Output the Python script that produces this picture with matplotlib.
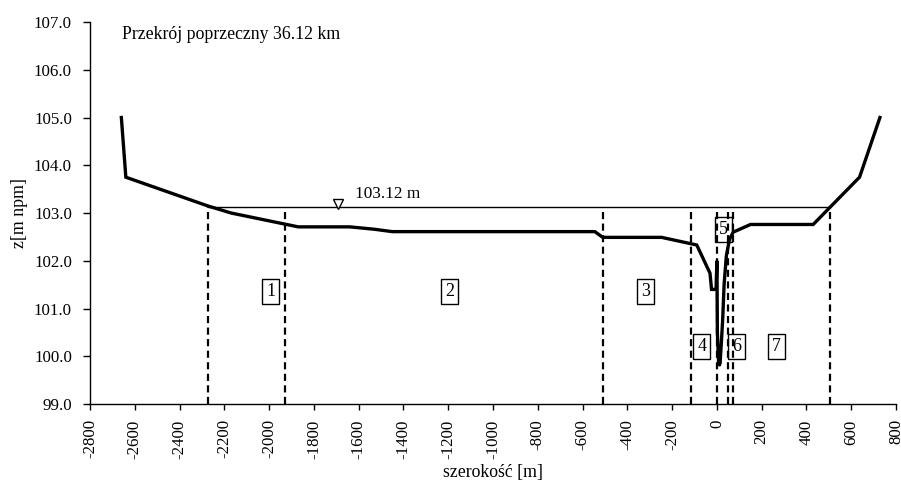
import matplotlib
matplotlib.use("Agg")
import matplotlib.pyplot as plt
from matplotlib.ticker import FormatStrFormatter

plt.rcParams['font.family'] = ['Liberation Serif', 'DejaVu Serif']
plt.rcParams['axes.unicode_minus'] = False

# Cross-section profile
profile_x = [-2660, -2640, -2275, -2170, -1870, -1640, -1530, -1450, -545, -510,
             -247, -90, -31, -24, -4, 0, 2, 8, 14, 20, 26, 32, 42, 56, 73,
             150, 430, 505, 637, 728]
profile_z = [105.0, 103.75, 103.15, 103.0, 102.71, 102.71, 102.66, 102.61, 102.61, 102.49,
             102.49, 102.33, 101.74, 101.40, 101.40, 102.0, 100.5, 99.8, 99.85, 100.3,
             100.8, 101.5, 102.1, 102.45, 102.6,
             102.76, 102.76, 103.12, 103.75, 105.0]

water_level = 103.12
water_x = [-2275, 505]

divider_x = [-2275, -1930, -510, -118, 0, 50, 72, 505]

zone_labels = ['1', '2', '3', '4', '5', '6', '7']
zone_x = [-1993, -1193, -317, -68, 28, 88, 267]
zone_z = [101.35, 101.35, 101.35, 100.2, 102.65, 100.2, 100.2]

marker_x = -1693
water_text = '103.12 m'
title_text = 'Przekrój poprzeczny 36.12 km'

x_ticks = list(range(-2800, 801, 200))
y_ticks = [99.0, 100.0, 101.0, 102.0, 103.0, 104.0, 105.0, 106.0, 107.0]

fig = plt.figure(figsize=(9.01, 4.86), dpi=100)
ax = fig.add_axes([0.0999, 0.1687, 0.8946, 0.786])

# water surface
ax.plot(water_x, [water_level, water_level], color='black', lw=1.0, zorder=2)

# dividers
for xd in divider_x:
    ax.plot([xd, xd], [99.0, water_level], color='black', lw=1.6,
            linestyle=(0, (3.2, 2.0)), zorder=2)

# profile
ax.plot(profile_x, profile_z, color='black', lw=2.4, solid_joinstyle='miter', zorder=3)

# water marker and label
ax.plot([marker_x], [water_level + 0.07], marker='v', markersize=6.5,
        markerfacecolor='white', markeredgecolor='black', markeredgewidth=1.0,
        linestyle='none', zorder=4)
ax.text(-1617, 103.31, water_text, fontsize=12.4, ha='left', va='baseline')

# zone labels
for lab, zx, zz in zip(zone_labels, zone_x, zone_z):
    ax.text(zx, zz, lab, fontsize=13, ha='center', va='center', zorder=5,
            bbox=dict(boxstyle='square,pad=0.22', facecolor='none',
                      edgecolor='black', lw=1.0))

ax.text(-2657, 106.64, title_text, fontsize=12.8, ha='left', va='baseline')

ax.set_xlim(-2800, 800)
ax.set_ylim(99.0, 107.0)
ax.set_xticks(x_ticks)
ax.set_yticks(y_ticks)
ax.yaxis.set_major_formatter(FormatStrFormatter('%.1f'))
ax.tick_params(axis='x', labelrotation=90, direction='out', length=4, width=1,
               labelsize=12.2, pad=7)
ax.tick_params(axis='y', direction='out', length=5, width=1, labelsize=12.2, pad=8)
for lab in ax.get_xticklabels():
    lab.set_verticalalignment('top')

for s in ['top', 'right']:
    ax.spines[s].set_visible(False)
for s in ['left', 'bottom']:
    ax.spines[s].set_linewidth(1.0)

ax.set_xlabel('szerokość [m]', fontsize=12.8, labelpad=4)
ax.set_ylabel('z[m npm]', fontsize=12.8, labelpad=4)

fig.savefig('out.png', dpi=100)
